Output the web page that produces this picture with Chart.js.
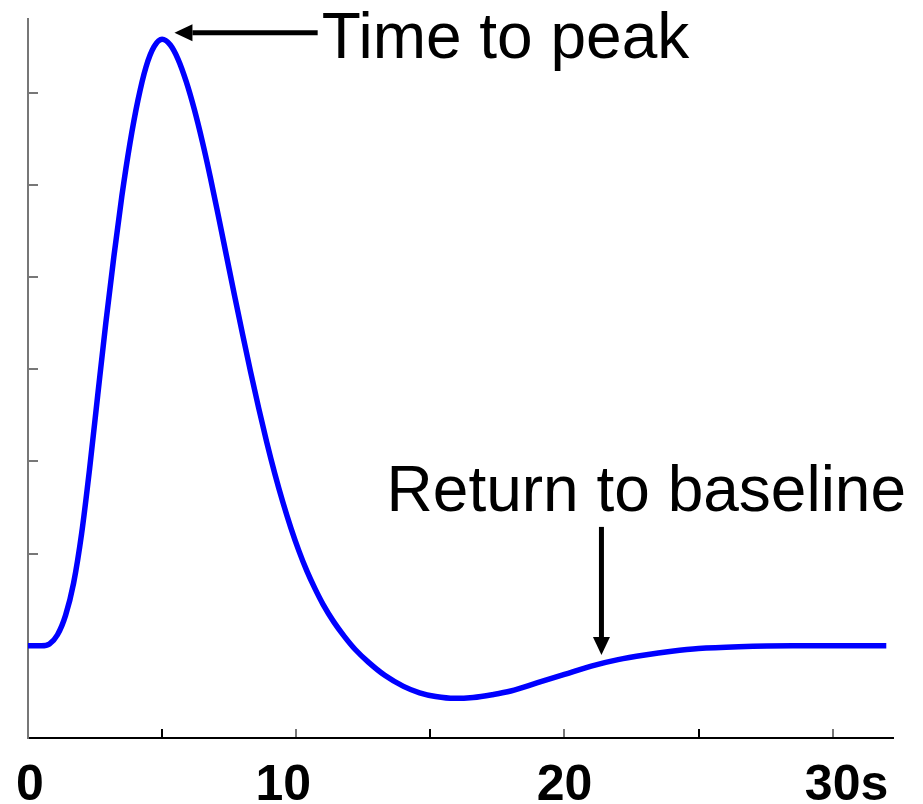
<!DOCTYPE html>
<html>
<head>
<meta charset="utf-8">
<script src="https://cdn.jsdelivr.net/npm/chart.js@4.4.0/dist/chart.umd.min.js"></script>
<style>
  html, body { margin: 0; padding: 0; background: #fff; }
</style>
</head>
<body>
<canvas id="grafico" width="923" height="804"></canvas>
<script>
// --- 1. DADOS ---
const tempos = [0, 0.5, 0.8, 1.1, 1.4, 1.7, 2.0, 2.3, 2.6, 2.9, 3.2, 3.5, 3.8, 4.1, 4.4, 4.7, 5.0,
                5.3, 5.6, 5.9, 6.2, 6.5, 6.8, 7.1, 7.4, 7.7, 8.0, 8.3, 8.6, 8.9, 9.2, 9.5, 9.8, 10.1, 10.4, 10.7,
                11.0, 11.4, 11.8, 12.2, 12.7, 13.3, 14.0, 14.6, 15.2, 15.9, 16.6, 17.3, 18.0, 19.0, 20.0, 21.0, 22.0,
                23.0, 24.0, 25.0, 26.5, 28.5, 32.0];
const sinal  = [1.00, 1.00, 1.02, 1.12, 1.33, 1.68, 2.22, 2.93, 3.72, 4.50, 5.22, 5.88, 6.45, 6.92, 7.28, 7.50, 7.58,
                7.52, 7.36, 7.12, 6.82, 6.47, 6.08, 5.66, 5.23, 4.80, 4.38, 3.97, 3.58, 3.21, 2.87, 2.56, 2.28, 2.03, 1.81, 1.62,
                1.45, 1.26, 1.10, 0.96, 0.82, 0.68, 0.56, 0.49, 0.45, 0.43, 0.44, 0.47, 0.51, 0.60, 0.69, 0.78, 0.85,
                0.90, 0.94, 0.97, 0.99, 1.00, 1.00];

const marcasX = [5, 10, 15, 20, 25, 30];
const rotulosX = [0, 10, 20, 30];
const textosX = ['0', '10', '20', '30s'];
const marcasY = [1, 2, 3, 4, 5, 6, 7];

// anotações: texto e seta em coordenadas dos dados
const textosAnot = ['Time to peak', 'Return to baseline'];
const posTexto = [[10.95, 7.38], [13.37, 2.46]];
const setaDe = [[10.80, 7.65], [21.38, 2.29]];
const setaPara = [[5.46, 7.65], [21.38, 0.90]];

// --- 2. ESTILO ---
const FONTE = '"Liberation Sans", Arial, sans-serif';
const ajusteRotulo = { 0: 2, 10: -13 };

function desenharSeta(ctx, x1, y1, x2, y2) {
    const ang = Math.atan2(y2 - y1, x2 - x1);
    const comp = 18, meia = 8.5;
    const bx = x2 - comp * Math.cos(ang), by = y2 - comp * Math.sin(ang);
    ctx.beginPath();
    ctx.moveTo(x1, y1);
    ctx.lineTo(bx, by);
    ctx.lineWidth = 5;
    ctx.strokeStyle = '#000';
    ctx.stroke();
    ctx.beginPath();
    ctx.moveTo(x2, y2);
    ctx.lineTo(bx + meia * Math.sin(ang), by - meia * Math.cos(ang));
    ctx.lineTo(bx - meia * Math.sin(ang), by + meia * Math.cos(ang));
    ctx.closePath();
    ctx.fillStyle = '#000';
    ctx.fill();
}

const pluginAnotacoes = {
    id: 'anotacoes',
    afterDraw(chart) {
        const ctx = chart.ctx;
        const sx = chart.scales.x, sy = chart.scales.y;
        ctx.save();

        // rótulos do eixo x ("30s": o número fica centrado na marca)
        ctx.font = 'bold 50px ' + FONTE;
        ctx.fillStyle = '#000';
        ctx.textBaseline = 'alphabetic';
        ctx.textAlign = 'left';
        rotulosX.forEach((v, i) => {
            const meio = ctx.measureText(String(v)).width / 2;
            const px = sx.getPixelForValue(v) + (ajusteRotulo[v] || 0);
            ctx.fillText(textosX[i], px - meio, sx.top + 62);
        });

        // setas e textos
        textosAnot.forEach((t, i) => {
            desenharSeta(ctx,
                sx.getPixelForValue(setaDe[i][0]), sy.getPixelForValue(setaDe[i][1]),
                sx.getPixelForValue(setaPara[i][0]), sy.getPixelForValue(setaPara[i][1]));
            ctx.font = '64px ' + FONTE;
            ctx.fillStyle = '#000';
            ctx.fillText(t, sx.getPixelForValue(posTexto[i][0]), sy.getPixelForValue(posTexto[i][1]));
        });
        ctx.restore();
    }
};

// --- 3. GRÁFICO ---
const ctx = document.getElementById('grafico').getContext('2d');
const grafico = new Chart(ctx, {
    type: 'line',
    data: {
        datasets: [{
            data: tempos.map((t, i) => ({ x: t, y: sinal[i] })),
            borderColor: '#0000ff',
            borderWidth: 5.5,
            pointRadius: 0,
            fill: false,
            cubicInterpolationMode: 'monotone',
            clip: false
        }]
    },
    options: {
        responsive: false,
        animation: false,
        devicePixelRatio: 1,
        layout: { padding: { left: 28, right: 30, top: 19, bottom: 66 } },
        plugins: { legend: { display: false }, tooltip: { enabled: false } },
        scales: {
            x: {
                type: 'linear',
                min: 0,
                max: 32.25,
                afterBuildTicks: (s) => { s.ticks = marcasX.map(v => ({ value: v })); },
                ticks: { display: false },
                grid: {
                    drawOnChartArea: false,
                    drawTicks: true,
                    tickLength: -9,
                    lineWidth: 2,
                    color: (c) => (c.tick && c.tick.value % 10 === 0) ? '#777' : '#000'
                },
                border: { color: '#000', width: 2 }
            },
            y: {
                type: 'linear',
                min: 0,
                max: 7.8,
                afterBuildTicks: (s) => { s.ticks = marcasY.map(v => ({ value: v })); },
                afterFit: (s) => { s.width = 0; },  // marcas para dentro
                ticks: { display: false },
                grid: {
                    drawOnChartArea: false,
                    drawTicks: true,
                    tickLength: -10,
                    lineWidth: 2,
                    color: '#777'
                },
                border: { color: '#777', width: 2 }
            }
        }
    },
    plugins: [pluginAnotacoes]
});
</script>
</body>
</html>
